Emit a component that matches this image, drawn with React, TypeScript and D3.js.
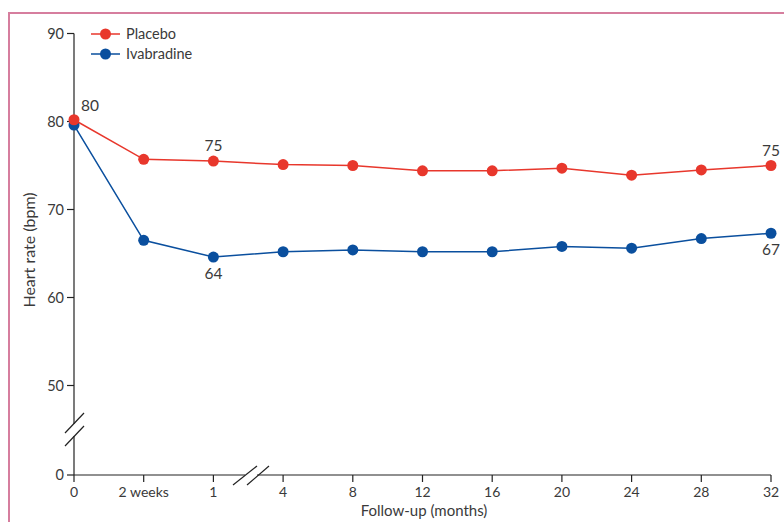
import React, { useRef, useEffect } from 'react';
import * as d3 from 'd3';

const timepoints = ['0', '2 weeks', '1', '4', '8', '12', '16', '20', '24', '28', '32'];
const placebo = [80.2, 75.7, 75.5, 75.1, 75.0, 74.4, 74.4, 74.7, 73.9, 74.5, 75.0];
const ivabradine = [79.6, 66.5, 64.6, 65.2, 65.4, 65.2, 65.2, 65.8, 65.6, 66.7, 67.3];
const yTicks = [0, 50, 60, 70, 80, 90];

// value labels: [series, index, text, above?]
const annotations: [string, number, string, boolean][] = [
  ['placebo', 0, '80', true],
  ['placebo', 2, '75', true],
  ['ivabradine', 2, '64', false],
  ['placebo', 10, '75', true],
  ['ivabradine', 10, '67', false],
];

const RED = '#e8372c';
const BLUE = '#0a4f9e';
const INK = '#3a3a3a';
const FONT = 'Lato, "Open Sans", sans-serif';

const App = () => {
  const ref = useRef<SVGSVGElement>(null);

  useEffect(() => {
    const svg = d3.select(ref.current);
    svg.selectAll('*').remove();

    const width = 784;
    const height = 522;
    const margin = { top: 33.5, right: 13, bottom: 47, left: 74 };

    // frame
    svg.append('path')
      .attr('d', `M9,${height + 5}V13H${width + 5}`)
      .attr('fill', 'none')
      .attr('stroke', '#d67e9e')
      .attr('stroke-width', 2);

    const x = d3.scalePoint<string>()
      .domain(timepoints)
      .range([margin.left, width - margin.right]);

    // broken axis: 0 sits below a gap, 50-90 is the real range
    const y = d3.scaleLinear()
      .domain([0, 50, 90])
      .range([height - margin.bottom, 385.5, margin.top]);

    const x0 = margin.left;
    const yBase = height - margin.bottom;

    // y axis line with break
    const yAxis = svg.append('g').attr('stroke', '#222').attr('stroke-width', 1.2);
    yAxis.append('line').attr('x1', x0).attr('x2', x0).attr('y1', y(90)).attr('y2', 424);
    yAxis.append('line').attr('x1', x0).attr('x2', x0).attr('y1', 436).attr('y2', yBase);
    yAxis.append('line').attr('x1', x0 - 9).attr('y1', 433).attr('x2', x0 + 10).attr('y2', 413);
    yAxis.append('line').attr('x1', x0 - 9).attr('y1', 446).attr('x2', x0 + 10).attr('y2', 426);

    // x axis line with break
    const xAxis = svg.append('g').attr('stroke', '#222').attr('stroke-width', 1.2);
    xAxis.append('line').attr('x1', x0).attr('x2', 245).attr('y1', yBase).attr('y2', yBase);
    xAxis.append('line').attr('x1', 257).attr('x2', x(timepoints[timepoints.length - 1])!).attr('y1', yBase).attr('y2', yBase);
    xAxis.append('line').attr('x1', 233).attr('y1', 485).attr('x2', 257).attr('y2', 466);
    xAxis.append('line').attr('x1', 247).attr('y1', 485).attr('x2', 269).attr('y2', 466);

    // y ticks
    const yt = svg.append('g').selectAll('g').data(yTicks).enter().append('g')
      .attr('transform', d => `translate(0,${y(d)})`);
    yt.append('line').attr('x1', x0 - 7).attr('x2', x0).attr('stroke', '#222').attr('stroke-width', 1.2);
    yt.append('text')
      .attr('x', x0 - 10)
      .attr('dy', '0.35em')
      .attr('text-anchor', 'end')
      .attr('fill', INK)
      .style('font', `14.5px ${FONT}`)
      .text(d => d);

    // x ticks
    const xt = svg.append('g').selectAll('g').data(timepoints).enter().append('g')
      .attr('transform', d => `translate(${x(d)},0)`);
    xt.append('line').attr('y1', yBase).attr('y2', yBase + 7).attr('stroke', '#222').attr('stroke-width', 1.2);
    xt.append('text')
      .attr('y', yBase + 22)
      .attr('text-anchor', 'middle')
      .attr('fill', INK)
      .style('font', `14px ${FONT}`)
      .text(d => d);

    // axis titles
    svg.append('text')
      .attr('x', 424)
      .attr('y', 516)
      .attr('text-anchor', 'middle')
      .attr('fill', INK)
      .style('font', `15px ${FONT}`)
      .text('Follow-up (months)');

    svg.append('text')
      .attr('transform', 'translate(35,250) rotate(-90)')
      .attr('text-anchor', 'middle')
      .attr('fill', INK)
      .style('font', `16px ${FONT}`)
      .text('Heart rate (bpm)');

    // series
    const series = [
      { key: 'ivabradine', values: ivabradine, color: BLUE },
      { key: 'placebo', values: placebo, color: RED },
    ];

    const line = d3.line<number>()
      .x((_, i) => x(timepoints[i])!)
      .y(d => y(d));

    series.forEach(s => {
      svg.append('path')
        .datum(s.values)
        .attr('d', line)
        .attr('fill', 'none')
        .attr('stroke', s.color)
        .attr('stroke-width', 1.5);
      svg.append('g').selectAll('circle').data(s.values).enter().append('circle')
        .attr('cx', (_, i) => x(timepoints[i])!)
        .attr('cy', d => y(d))
        .attr('r', 5.5)
        .attr('fill', s.color);
    });

    // value labels
    annotations.forEach(([key, i, label, above]) => {
      const vals = key === 'placebo' ? placebo : ivabradine;
      const first = i === 0;
      svg.append('text')
        .attr('x', x(timepoints[i])! + (first ? 16 : 0))
        .attr('y', y(vals[i]) + (first ? -9 : above ? -10 : 22))
        .attr('text-anchor', 'middle')
        .attr('fill', INK)
        .style('font', `15.5px ${FONT}`)
        .text(label);
    });

    // legend
    const legend = svg.append('g').selectAll('g').data([
      { name: 'Placebo', color: RED },
      { name: 'Ivabradine', color: BLUE },
    ]).enter().append('g')
      .attr('transform', (_, i) => `translate(91,${34 + i * 20})`);
    legend.append('line').attr('x1', 0).attr('x2', 29).attr('stroke', d => d.color).attr('stroke-width', 1.5);
    legend.append('circle').attr('cx', 14.5).attr('r', 5.5).attr('fill', d => d.color);
    legend.append('text')
      .attr('x', 35)
      .attr('dy', '0.35em')
      .attr('fill', INK)
      .style('font', `14.5px ${FONT}`)
      .text(d => d.name);
  }, []);

  return (
    <svg
      ref={ref}
      width={784}
      height={522}
      style={{ position: 'absolute', left: 0, top: 0, background: '#fff' }}
    />
  );
};

export default App;
